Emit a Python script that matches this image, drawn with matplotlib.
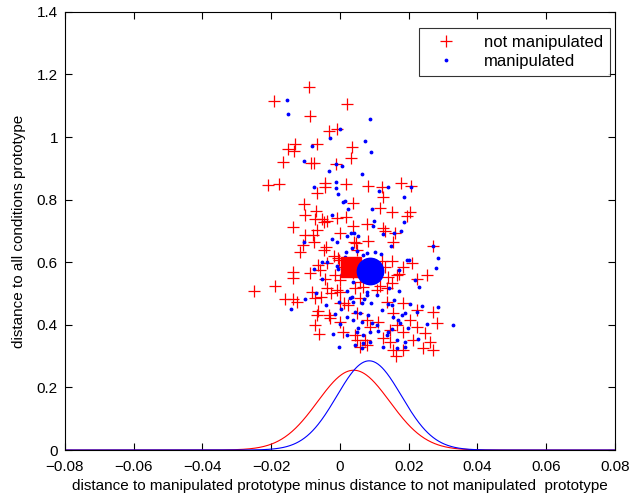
import numpy as np
import matplotlib
matplotlib.use("Agg")
import matplotlib.pyplot as plt

plt.rcParams['font.family'] = ['Liberation Sans', 'DejaVu Sans']

# not manipulated (red +)
red_x = [-0.0090, -0.0192, 0.0020, -0.0087, -0.0032, -0.0009, -0.0131, -0.0151, -0.0134, -0.0067,
         0.0035, -0.0166, -0.0084, -0.0076, -0.0012, 0.0032, -0.0209, -0.0177, -0.0044, -0.0044,
         0.0017, 0.0081, 0.0122, 0.0177, 0.0207, -0.0067, -0.0105, 0.0038, -0.0070, -0.0102,
         -0.0047, -0.0073, -0.0009, 0.0017, -0.0137, -0.0067, 0.0038, 0.0000, -0.0102, -0.0079,
         0.0041, -0.0108, -0.0076, -0.0116, -0.0041, -0.0047, -0.0017, -0.0003, -0.0137, -0.0137,
         -0.0087, -0.0058, -0.0044, -0.0015, 0.0000, -0.0250, -0.0189, 0.0125, 0.0116, 0.0151,
         0.0204, 0.0195, 0.0079, 0.0125, 0.0131, 0.0160, 0.0047, 0.0081, 0.0154, 0.0271,
         0.0049, 0.0122, 0.0151, 0.0183, 0.0209, 0.0131, 0.0172, 0.0140, 0.0253, 0.0224,
         0.0058, 0.0116, 0.0151, -0.0052, -0.0038, -0.0064, -0.0038, 0.0009, -0.0006, -0.0160,
         -0.0137, -0.0125, -0.0081, -0.0073, -0.0055, -0.0038, -0.0026, -0.0009, 0.0000, -0.0064,
         -0.0067, -0.0032, -0.0029, 0.0000, -0.0073, -0.0061, 0.0009, 0.0012, 0.0023, 0.0000,
         0.0038, 0.0166, 0.0137, 0.0108, 0.0067, 0.0044, 0.0058, 0.0137, 0.0183, 0.0224,
         0.0271, 0.0154, 0.0049, 0.0079, 0.0111, 0.0204, 0.0282, 0.0166, 0.0087, 0.0224,
         0.0145, 0.0183, 0.0247, 0.0049, 0.0044, 0.0073, 0.0125, 0.0145, 0.0212, 0.0262,
         0.0058, 0.0079, 0.0183, 0.0241, 0.0271, 0.0154, 0.0163]
red_y = [1.160, 1.115, 1.106, 1.067, 1.020, 1.026, 0.978, 0.962, 0.956, 0.978,
         0.968, 0.920, 0.917, 0.917, 0.914, 0.933, 0.847, 0.850, 0.853, 0.841,
         0.850, 0.844, 0.841, 0.853, 0.844, 0.821, 0.786, 0.789, 0.764, 0.751,
         0.729, 0.738, 0.741, 0.745, 0.713, 0.703, 0.716, 0.694, 0.687, 0.687,
         0.665, 0.655, 0.665, 0.633, 0.649, 0.639, 0.620, 0.607, 0.569, 0.550,
         0.566, 0.575, 0.546, 0.559, 0.543, 0.508, 0.524, 0.809, 0.773, 0.761,
         0.761, 0.748, 0.722, 0.710, 0.700, 0.694, 0.662, 0.668, 0.665, 0.652,
         0.639, 0.604, 0.604, 0.585, 0.598, 0.585, 0.562, 0.553, 0.559, 0.546,
         0.537, 0.524, 0.534, 0.738, 0.732, 0.591, 0.598, 0.585, 0.614, 0.483,
         0.483, 0.473, 0.505, 0.486, 0.489, 0.518, 0.502, 0.511, 0.505, 0.444,
         0.431, 0.431, 0.422, 0.409, 0.399, 0.371, 0.377, 0.470, 0.463, 0.470,
         0.566, 0.559, 0.518, 0.511, 0.521, 0.518, 0.486, 0.473, 0.470, 0.447,
         0.441, 0.438, 0.438, 0.415, 0.409, 0.415, 0.406, 0.399, 0.393, 0.393,
         0.384, 0.377, 0.374, 0.352, 0.368, 0.352, 0.358, 0.345, 0.352, 0.345,
         0.329, 0.336, 0.320, 0.326, 0.320, 0.320, 0.300]

# manipulated (blue dots)
blue_x = [-0.0154, -0.0151, 0.0000, -0.0029, -0.0081, -0.0105, -0.0012, 0.0006, -0.0032, -0.0012,
          -0.0076, -0.0012, 0.0087, 0.0073, 0.0090, 0.0064, 0.0140, 0.0207, -0.0006, 0.0009,
          0.0015, 0.0023, -0.0023, 0.0020, 0.0032, 0.0041, 0.0052, -0.0023, -0.0009, -0.0105,
          0.0035, 0.0049, 0.0017, 0.0015, -0.0052, -0.0038, -0.0009, -0.0006, -0.0076, 0.0006,
          -0.0052, 0.0038, 0.0113, 0.0186, 0.0093, 0.0099, 0.0096, 0.0186, 0.0177, 0.0157,
          0.0125, 0.0148, 0.0271, 0.0102, 0.0079, 0.0119, 0.0067, 0.0285, 0.0195, 0.0201,
          0.0172, 0.0279, 0.0218, 0.0230, 0.0143, -0.0070, -0.0102, -0.0143, -0.0041, -0.0003,
          0.0003, 0.0020, 0.0035, -0.0015, 0.0020, 0.0038, -0.0020, 0.0020, -0.0003, 0.0052,
          0.0079, 0.0079, 0.0108, 0.0172, 0.0029, 0.0038, 0.0064, 0.0070, 0.0090, 0.0157,
          0.0140, 0.0151, 0.0204, 0.0238, 0.0285, 0.0044, 0.0058, 0.0081, 0.0122, 0.0180,
          0.0189, 0.0224, 0.0154, 0.0169, 0.0175, 0.0064, 0.0093, 0.0108, 0.0253, 0.0329,
          0.0198, 0.0151, 0.0140, 0.0111, 0.0087, 0.0067, 0.0049, 0.0137, 0.0227, 0.0189,
          0.0166, 0.0087, 0.0067, 0.0044, 0.0064, 0.0125, 0.0166, 0.0189, 0.0000]
blue_y = [1.119, 1.074, 1.026, 0.997, 0.972, 0.924, 0.914, 0.908, 0.892, 0.857,
          0.841, 0.837, 1.058, 0.988, 0.952, 0.882, 0.841, 0.841, 0.818, 0.793,
          0.796, 0.770, 0.751, 0.684, 0.694, 0.694, 0.684, 0.674, 0.665, 0.665,
          0.646, 0.636, 0.633, 0.617, 0.601, 0.601, 0.588, 0.578, 0.578, 0.562,
          0.546, 0.537, 0.828, 0.809, 0.770, 0.732, 0.716, 0.729, 0.700, 0.694,
          0.690, 0.652, 0.652, 0.633, 0.630, 0.626, 0.623, 0.614, 0.607, 0.607,
          0.575, 0.582, 0.543, 0.521, 0.518, 0.502, 0.483, 0.451, 0.463, 0.473,
          0.451, 0.508, 0.489, 0.435, 0.425, 0.415, 0.371, 0.368, 0.329, 0.390,
          0.505, 0.495, 0.495, 0.508, 0.486, 0.473, 0.470, 0.483, 0.470, 0.479,
          0.467, 0.463, 0.467, 0.460, 0.457, 0.441, 0.438, 0.431, 0.447, 0.431,
          0.438, 0.441, 0.425, 0.415, 0.406, 0.409, 0.406, 0.399, 0.403, 0.399,
          0.390, 0.387, 0.377, 0.380, 0.377, 0.368, 0.377, 0.368, 0.355, 0.345,
          0.352, 0.345, 0.342, 0.336, 0.326, 0.329, 0.326, 0.329, 0.403]

# group centers (big markers)
red_center = (0.0032, 0.585)
blue_center = (0.0087, 0.572)

# gaussian fits along x (mean, sigma, peak height)
red_gauss = (0.0040, 0.0105, 0.255)
blue_gauss = (0.0085, 0.0094, 0.285)

xlim = (-0.08, 0.08)
ylim = (0, 1.4)
xticks = [-0.08, -0.06, -0.04, -0.02, 0, 0.02, 0.04, 0.06, 0.08]
yticks = [0, 0.2, 0.4, 0.6, 0.8, 1, 1.2, 1.4]
xtick_labels = ['\u22120.08', '\u22120.06', '\u22120.04', '\u22120.02', '0',
                '0.02', '0.04', '0.06', '0.08']
ytick_labels = ['0', '0.2', '0.4', '0.6', '0.8', '1', '1.2', '1.4']

fig = plt.figure(figsize=(6.36, 4.94), dpi=100)
ax = fig.add_axes([0.102, 0.089, 0.865, 0.887])

ax.plot(red_x, red_y, '+', color='red', markersize=8, markeredgewidth=0.9,
        linestyle='none', label='not manipulated')
ax.plot(blue_x, blue_y, '.', color='blue', markersize=3.5,
        linestyle='none', label='manipulated')

ax.plot([red_center[0]], [red_center[1]], 's', color='red', markersize=14)
ax.plot([blue_center[0]], [blue_center[1]], 'o', color='blue', markersize=19)

xs = np.linspace(xlim[0], xlim[1], 800)
for (mu, sd, h), c in [(red_gauss, 'red'), (blue_gauss, 'blue')]:
    ax.plot(xs, h * np.exp(-0.5 * ((xs - mu) / sd) ** 2), color=c, linewidth=0.8)

ax.set_xlim(*xlim)
ax.set_ylim(*ylim)
ax.set_xticks(xticks)
ax.set_yticks(yticks)
ax.set_xticklabels(xtick_labels)
ax.set_yticklabels(ytick_labels)
ax.tick_params(direction='in', top=True, right=True, labelsize=11, length=5, width=0.8)
ax.tick_params(axis='x', pad=7)
ax.tick_params(axis='y', pad=5)
for s in ax.spines.values():
    s.set_linewidth(0.8)
    s.set_color('black')

ax.set_xlabel('distance to manipulated prototype minus distance to not manipulated  prototype',
              fontsize=11, labelpad=4)
ax.set_ylabel('distance to all conditions prototype', fontsize=11, labelpad=8)

leg = ax.legend(loc='upper right', bbox_to_anchor=(0.991, 0.963), borderaxespad=0,
                fontsize=12, frameon=True, fancybox=False,
                handlelength=2.4, handletextpad=1.1, borderpad=0.4,
                labelspacing=0.25)
leg.get_frame().set_edgecolor('black')
leg.get_frame().set_linewidth(0.8)

fig.savefig('out.png', dpi=100)
